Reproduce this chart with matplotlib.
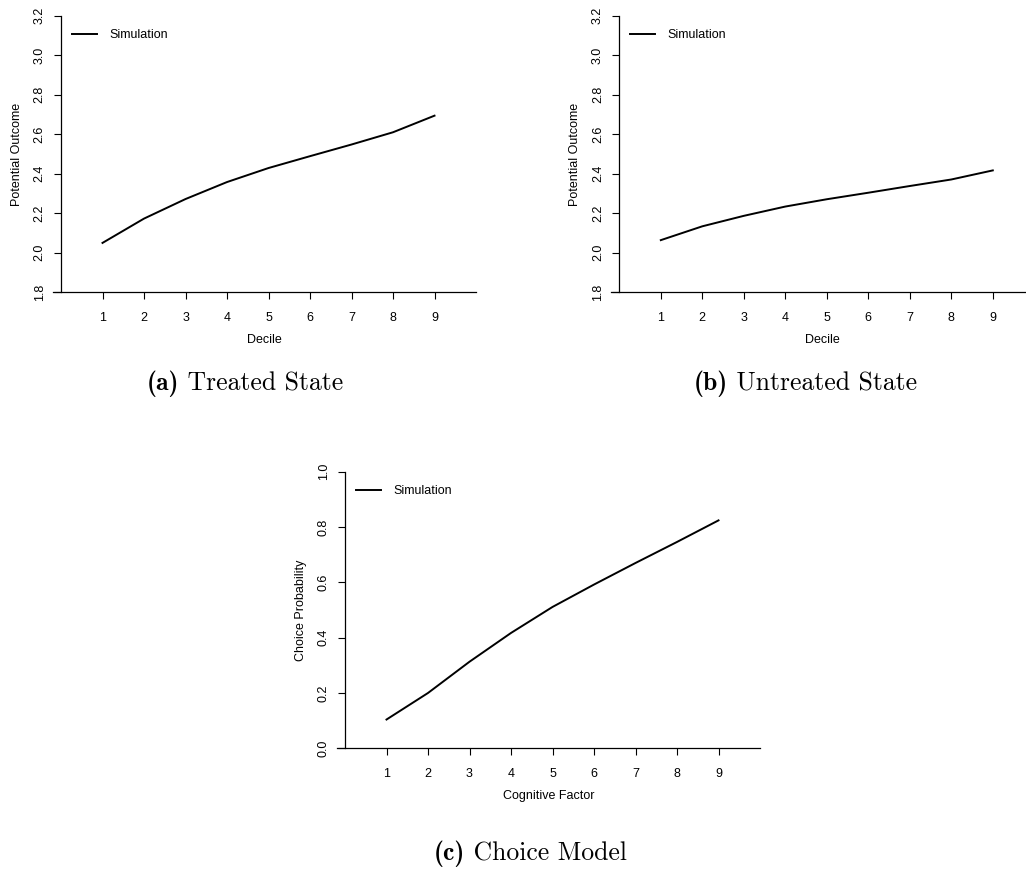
import numpy as np
import matplotlib
matplotlib.use("Agg")
import matplotlib.pyplot as plt

deciles = [1, 2, 3, 4, 5, 6, 7, 8, 9]
treated = [2.050, 2.173, 2.272, 2.358, 2.429, 2.489, 2.548, 2.610, 2.694]
untreated = [2.064, 2.134, 2.187, 2.234, 2.271, 2.304, 2.338, 2.371, 2.417]
choice = [0.104, 0.200, 0.313, 0.417, 0.511, 0.592, 0.670, 0.746, 0.824]

plt.rcParams['font.family'] = ['Liberation Sans', 'DejaVu Sans']
plt.rcParams['font.size'] = 9

fig = plt.figure(figsize=(10.26, 8.84), dpi=100)

W, H = 1026.0, 884.0


def panel(left_px, top_px, ys, ylim, yticks, ylabel, xlabel):
    width_px, height_px = 423.3, 276.6
    ax = fig.add_axes([left_px / W, 1 - (top_px + height_px) / H,
                       width_px / W, height_px / H])
    ax.plot(deciles, ys, color='black', lw=1.4, label='Simulation')
    ax.set_xlim(-0.2, 10.0)
    ax.set_ylim(*ylim)
    ax.set_xticks(deciles)
    ax.set_yticks(yticks)
    ax.set_yticklabels(['%.1f' % v for v in yticks])
    for s in ['top', 'right']:
        ax.spines[s].set_visible(False)
    ax.spines['left'].set_position(('data', 0))
    ax.spines['left'].set_linewidth(0.9)
    ax.spines['bottom'].set_linewidth(0.9)
    ax.tick_params(axis='x', length=5, width=0.8, pad=9, labelsize=9)
    ax.tick_params(axis='y', length=5, width=0.8, pad=6, labelsize=9,
                   labelrotation=90)
    for lab in ax.get_yticklabels():
        lab.set_va('center')
    ax.set_ylabel(ylabel, fontsize=9)
    ax.yaxis.set_label_coords(-0.071, 0.5)
    ax.set_xlabel(xlabel, fontsize=9)
    ax.xaxis.set_label_coords(0.5, -0.152)
    ax.legend(loc='center left', bbox_to_anchor=(0.045, 0.929), frameon=False,
              borderpad=0, borderaxespad=0, handlelength=2.0, handletextpad=1.0,
              fontsize=9)
    return ax


outcome_ticks = [1.8, 2.0, 2.2, 2.4, 2.6, 2.8, 3.0, 3.2]
panel(52.7, 15.7, treated, (1.8, 3.2), outcome_ticks, 'Potential Outcome', 'Decile')
panel(611.0, 15.7, untreated, (1.8, 3.2), outcome_ticks, 'Potential Outcome', 'Decile')
panel(336.7, 471.7, choice, (0.0, 1.0), [0.0, 0.2, 0.4, 0.6, 0.8, 1.0],
      'Choice Probability', 'Cognitive Factor')


def caption(xc, yc, tag, text):
    # bold tag in cmb10, body in cmr10
    t1 = fig.text(0, 0, tag, family='cmb10', fontsize=18.5)
    t2 = fig.text(0, 0, ' ' + text, family='cmr10', fontsize=18.5)
    r = fig.canvas.get_renderer()
    w1 = t1.get_window_extent(r).width
    w2 = t2.get_window_extent(r).width
    x0 = xc - (w1 + w2) / 2
    t1.set_position((x0 / W, 1 - yc / H))
    t2.set_position(((x0 + w1) / W, 1 - yc / H))
    t1.set_va('center')
    t2.set_va('center')


caption(245, 384, '(a)', 'Treated State')
caption(805, 384, '(b)', 'Untreated State')
caption(530, 854, '(c)', 'Choice Model')

fig.savefig('out.png', dpi=100)
